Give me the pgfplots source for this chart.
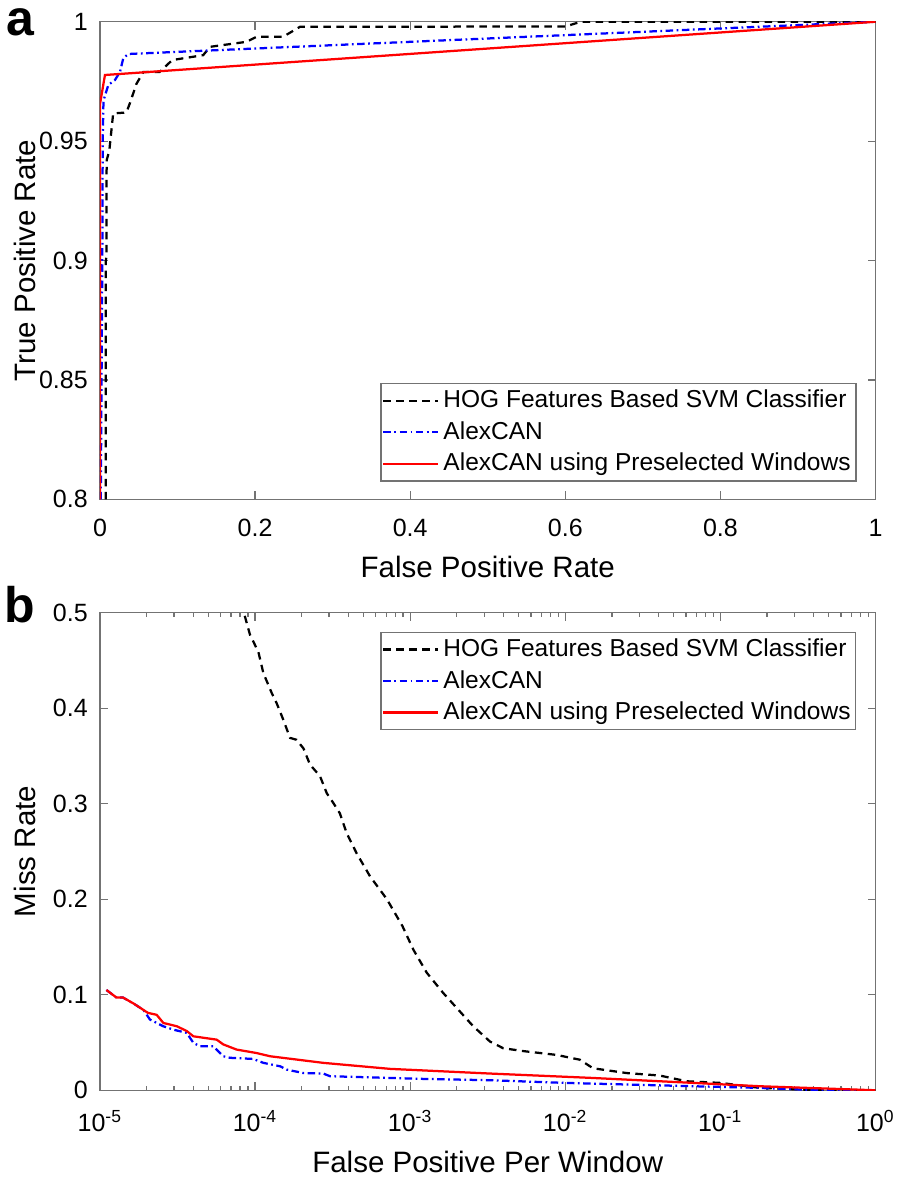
\documentclass[border=0pt]{standalone}
\usepackage{fontspec}
\setmainfont{Liberation Sans}
\usepackage{pgfplots}
\pgfplotsset{compat=1.18}
\definecolor{mred}{RGB}{255,0,0}
\definecolor{mblue}{RGB}{0,0,255}
\begin{document}
\begin{tikzpicture}
\useasboundingbox (-40pt,-271.1pt) rectangle (319.2pt,199.7pt);
\pgfplotsset{
  myaxis/.style={
    scale only axis, width=310.2pt, height=191pt,
    anchor=south west,
    axis line style={black!55, line width=0.5pt},
    every tick/.style={black!55, line width=0.5pt},
    tick align=inside,
    xtick pos=both, ytick pos=both,
    xticklabel pos=lower, yticklabel pos=left,
    major tick length=3.2pt, minor tick length=1.8pt,
    tick label style={font=\fontsize{10}{12}\selectfont, text=black},
    xticklabel style={yshift=-4.4pt},
    yticklabel style={xshift=-1.4pt},
    label style={font=\fontsize{11.8}{14}\selectfont},
    ylabel style={at={(axis description cs:-0.0967,0.5)}, anchor=center, rotate=0},
    /pgf/number format/assume math mode=true,
    legend cell align=left,
    legend image code/.code={\draw[##1] (0pt,0pt) -- (22pt,0pt);},
    legend style={draw=black!55, line width=0.5pt, font=\fontsize{9.8}{11}\selectfont,
      inner xsep=0.5pt, inner ysep=0.6pt,
      nodes={inner xsep=1.6pt, inner ysep=2pt, text depth=0.15em}},
  },
  hog/.style={black, line width=0.9pt, dash pattern=on 3pt off 2.2pt},
  alex/.style={mblue, line width=0.9pt, dash pattern=on 3pt off 1.4pt on 0.7pt off 1.4pt},
  pre/.style={mred, line width=0.9pt},
}
% ---------------- panel a ----------------
\begin{axis}[myaxis, at={(0pt,0pt)},
  xmin=0, xmax=1, ymin=0.8, ymax=1,
  xtick={0,0.2,0.4,0.6,0.8,1},
  ytick={0.8,0.85,0.9,0.95,1},
  yticklabel style={/pgf/number format/fixed, /pgf/number format/precision=2},
  xticklabel style={/pgf/number format/fixed, /pgf/number format/precision=1},
  xlabel={False Positive Rate}, ylabel={True Positive Rate},
  xlabel style={at={(axis description cs:0.5,-0.141)}, anchor=center},
  legend style={at={(axis description cs:0.9755,0.0368)}, anchor=south east},
]
\addplot[hog] coordinates {
(0.0075,0.8) (0.0075,0.9) (0.0085,0.902) (0.0085,0.935) (0.0086,0.942) (0.012,0.946)
(0.017,0.9616) (0.034,0.962) (0.0387,0.966) (0.047,0.974) (0.056,0.979) (0.077,0.979)
(0.09,0.983) (0.094,0.984) (0.133,0.986) (0.142,0.9895) (0.189,0.9916) (0.202,0.9937)
(0.236,0.9937) (0.258,0.9979) (0.6,0.998) (0.62,1) (1,1)};
\addlegendentry{HOG Features Based SVM Classifier}
\addplot[alex] coordinates {
(0.001,0.8) (0.002,0.85) (0.003,0.9) (0.0035,0.95) (0.0045,0.967) (0.0107,0.9735)
(0.0193,0.9756) (0.0258,0.979) (0.030,0.9847) (0.0365,0.9865) (1,1)};
\addlegendentry{AlexCAN}
\addplot[pre] coordinates {
(0,0.8) (0,0.9655) (0.0064,0.9777) (1,1)};
\addlegendentry{AlexCAN using Preselected Windows}
\end{axis}
% ---------------- panel b ----------------
\begin{axis}[myaxis, at={(0pt,-236.4pt)},
  xmode=log, log basis x=10,
  xmin=1e-5, xmax=1, ymin=0, ymax=0.5,
  xtick={1e-5,1e-4,1e-3,1e-2,1e-1,1},
  xticklabels={10\textsuperscript{-5},10\textsuperscript{-4},10\textsuperscript{-3},10\textsuperscript{-2},10\textsuperscript{-1},10\textsuperscript{0}},
  minor xtick={2e-5,3e-5,4e-5,5e-5,6e-5,7e-5,8e-5,9e-5,
    2e-4,3e-4,4e-4,5e-4,6e-4,7e-4,8e-4,9e-4,
    2e-3,3e-3,4e-3,5e-3,6e-3,7e-3,8e-3,9e-3,
    2e-2,3e-2,4e-2,5e-2,6e-2,7e-2,8e-2,9e-2,
    0.2,0.3,0.4,0.5,0.6,0.7,0.8,0.9},
  ytick={0,0.1,0.2,0.3,0.4,0.5},
  yticklabel style={/pgf/number format/fixed, /pgf/number format/precision=1},
  xlabel={False Positive Per Window}, ylabel={Miss Rate},
  xlabel style={at={(axis description cs:0.5,-0.151)}, anchor=center},
  legend style={at={(axis description cs:0.9755,0.9603)}, anchor=north east},
]
\addplot[hog] coordinates {
(8.2e-5,0.51) (8.47e-5,0.5) (9.27e-5,0.477) (1.05e-4,0.459) (1.13e-4,0.437) (1.28e-4,0.416)
(1.38e-4,0.405) (1.52e-4,0.388) (1.68e-4,0.369) (1.85e-4,0.367) (2.05e-4,0.358)
(2.26e-4,0.341) (2.62e-4,0.329) (2.90e-4,0.311) (3.19e-4,0.301) (3.52e-4,0.290)
(3.90e-4,0.269) (4.52e-4,0.248) (5.51e-4,0.224) (7.08e-4,0.200) (8.91e-4,0.172)
(1.05e-3,0.147) (1.28e-3,0.123) (1.63e-3,0.102) (2.0e-3,0.086) (2.55e-3,0.067)
(3.27e-3,0.051) (3.98e-3,0.044) (5.37e-3,0.041) (8.79e-3,0.037) (1.24e-2,0.032)
(1.51e-2,0.023) (2.49e-2,0.018) (4.07e-2,0.0154) (6.07e-2,0.0094) (0.1,0.0077)
(0.18,0.0025) (0.44,0) (1,0)};
\addlegendentry{HOG Features Based SVM Classifier}
\addplot[alex] coordinates {
(1.10e-5,0.105) (1.28e-5,0.097) (1.41e-5,0.097) (1.64e-5,0.091) (1.91e-5,0.084)
(2.10e-5,0.074) (2.56e-5,0.067) (2.97e-5,0.0635) (3.63e-5,0.060) (4.0e-5,0.0496)
(4.42e-5,0.046) (5.37e-5,0.046) (6.24e-5,0.0356) (6.89e-5,0.034) (9.72e-5,0.0328)
(1.13e-4,0.0287) (1.45e-4,0.0251) (1.60e-4,0.0216) (2.05e-4,0.018) (2.75e-4,0.0175)
(3.04e-4,0.0147) (4.52e-4,0.0139) (1.21e-3,0.0119) (3.27e-3,0.0105) (1e-2,0.0077)
(6.70e-2,0.0042) (0.18,0.0025) (0.44,0.0) (1,0)};
\addlegendentry{AlexCAN}
\addplot[pre] coordinates {
(1.10e-5,0.105) (1.28e-5,0.097) (1.41e-5,0.097) (1.64e-5,0.091) (1.91e-5,0.084)
(2.04e-5,0.081) (2.32e-5,0.079) (2.56e-5,0.0705) (3.13e-5,0.067) (3.63e-5,0.062)
(4.0e-5,0.0565) (5.65e-5,0.053) (6.24e-5,0.048) (7.60e-5,0.0426) (1.02e-4,0.039)
(1.25e-4,0.0356) (2.75e-4,0.0287) (7.41e-4,0.0224) (3.27e-3,0.0175) (1.45e-2,0.013)
(6.70e-2,0.0077) (0.18,0.0042) (1,0)};
\addlegendentry{AlexCAN using Preselected Windows}
\end{axis}
\node[font=\fontsize{20}{24}\selectfont\bfseries, anchor=base, inner sep=0pt] at (-32pt,185.5pt) {a};
\node[font=\fontsize{20}{24}\selectfont\bfseries, anchor=base, inner sep=0pt] at (-32pt,-49.1pt) {b};
\end{tikzpicture}
\end{document}
